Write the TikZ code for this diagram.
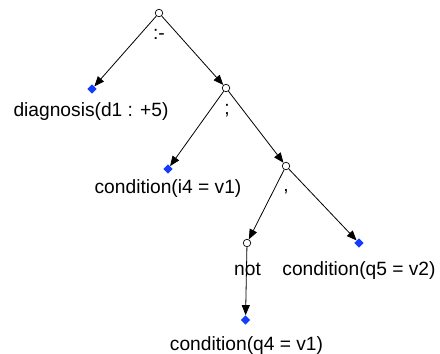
\documentclass[tikz,border=0pt]{standalone}
\usepackage{fontspec}
\setmainfont{Liberation Sans}
\usetikzlibrary{shapes.geometric,arrows.meta}
\definecolor{leafblue}{RGB}{20,60,255}
\tikzset{
  opnode/.style={circle,draw=black,fill=white,line width=0.7pt,minimum size=7.5pt,inner sep=0pt},
  leafnode/.style={diamond,fill=leafblue,minimum width=9.5pt,minimum height=9.5pt,inner sep=0pt},
  edge/.style={draw=black,line width=0.8pt,-{Triangle[length=10pt,width=8pt]}},
  lbl/.style={anchor=base,inner sep=0pt,font=\fontsize{19.2}{22}\selectfont}
}
\begin{document}
\begin{tikzpicture}[x=1pt,y=-1pt]
\useasboundingbox[fill=white] (0,0) rectangle (440,354);
% operator nodes
\node[opnode] (root) at (159,13) {};
\node[opnode] (semi) at (226,88) {};
\node[opnode] (comma) at (286,166) {};
\node[opnode] (notn) at (247,243) {};
% leaves
\node[leafnode] (d1) at (92,89) {};
\node[leafnode] (i4) at (168,169) {};
\node[leafnode] (q5) at (359,243) {};
\node[leafnode] (q4) at (245.5,320) {};
% edges
\draw[edge] (root) -- (d1);
\draw[edge] (root) -- (semi);
\draw[edge] (semi) -- (i4);
\draw[edge] (semi) -- (comma);
\draw[edge] (comma) -- (notn);
\draw[edge] (comma) -- (q5);
\draw[edge] (notn) -- (q4);
% operator labels
\node[lbl] (lroot) at (159,39) {:-};
\node[lbl] (lsemi) at (227,114) {;};
\node[lbl] (lcomma) at (286,191) {,};
\node[lbl] (lnot) at (247.5,275) {not};
% leaf labels
\node[lbl] (ld1) at (91,116) {diagnosis(d1 : +5)};
\node[lbl] (li4) at (168,193) {condition(i4 = v1)};
\node[lbl] (lq5) at (359,275) {condition(q5 = v2)};
\node[lbl] (lq4) at (246.5,350) {condition(q4 = v1)};
\end{tikzpicture}
\end{document}
